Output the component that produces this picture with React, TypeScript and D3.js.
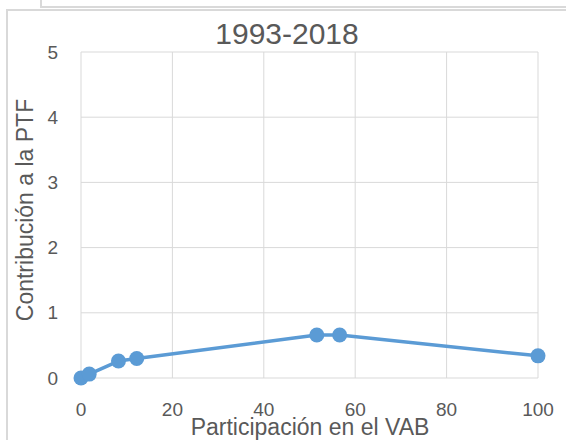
import React from 'react';
import * as d3 from 'd3';

// Participación en el VAB (x) vs Contribución a la PTF (y), 1993-2018
const participacion = [0, 1.8, 8.2, 12.2, 51.6, 56.6, 100];
const contribucion = [0, 0.06, 0.26, 0.3, 0.66, 0.66, 0.34];
const xTicks = [0, 20, 40, 60, 80, 100];
const yTicks = [0, 1, 2, 3, 4, 5];

const W = 566;
const H = 440;
const FONT = '"Liberation Sans", Arial, sans-serif';
const GRID = '#d9d9d9';
const TEXT = '#595959';
const BLUE = '#5b9bd5';

const App = () => {
    const x = d3.scaleLinear().domain([0, 100]).range([81, 538]);
    const y = d3.scaleLinear().domain([0, 5]).range([378, 52]);

    const points = participacion.map((p, i) => [p, contribucion[i]] as [number, number]);
    const line = d3
        .line<[number, number]>()
        .x(d => x(d[0]))
        .y(d => y(d[1]));

    return (
        <svg
            width={W}
            height={H}
            style={{ position: 'absolute', left: 0, top: 0, background: '#fff' }}
        >
            {/* frame pieces */}
            <polyline points="41,0 41,7 566,7" fill="none" stroke={GRID} strokeWidth={2} />
            <polyline points="7,440 7,10 566,10" fill="none" stroke={GRID} strokeWidth={2} />

            {/* grid */}
            {yTicks.map(t => (
                <line key={'gy' + t} x1={x(0)} x2={x(100)} y1={y(t)} y2={y(t)} stroke={GRID} strokeWidth={1} />
            ))}
            {xTicks.map(t => (
                <line key={'gx' + t} x1={x(t)} x2={x(t)} y1={y(0)} y2={y(5)} stroke={GRID} strokeWidth={1} />
            ))}

            {/* tick labels */}
            {yTicks.map(t => (
                <text
                    key={'ty' + t}
                    x={58}
                    y={y(t)}
                    dy="0.35em"
                    textAnchor="end"
                    fontFamily={FONT}
                    fontSize={19}
                    fill={TEXT}
                >
                    {t}
                </text>
            ))}
            {xTicks.map(t => (
                <text
                    key={'tx' + t}
                    x={x(t)}
                    y={416}
                    textAnchor="middle"
                    fontFamily={FONT}
                    fontSize={19}
                    fill={TEXT}
                >
                    {t}
                </text>
            ))}

            {/* series */}
            <path d={line(points) || ''} fill="none" stroke={BLUE} strokeWidth={3.5} strokeLinejoin="round" />
            {points.map((d, i) => (
                <circle key={'pt' + i} cx={x(d[0])} cy={y(d[1])} r={7.5} fill={BLUE} />
            ))}

            {/* titles */}
            <text x={287} y={44} textAnchor="middle" fontFamily={FONT} fontSize={30} fill={TEXT}>
                1993-2018
            </text>
            <text x={310} y={435} textAnchor="middle" fontFamily={FONT} fontSize={23} fill={TEXT}>
                Participación en el VAB
            </text>
            <text
                transform="translate(33,210) rotate(-90)"
                textAnchor="middle"
                fontFamily={FONT}
                fontSize={23}
                fill={TEXT}
            >
                Contribución a la PTF
            </text>
        </svg>
    );
};

export default App;
